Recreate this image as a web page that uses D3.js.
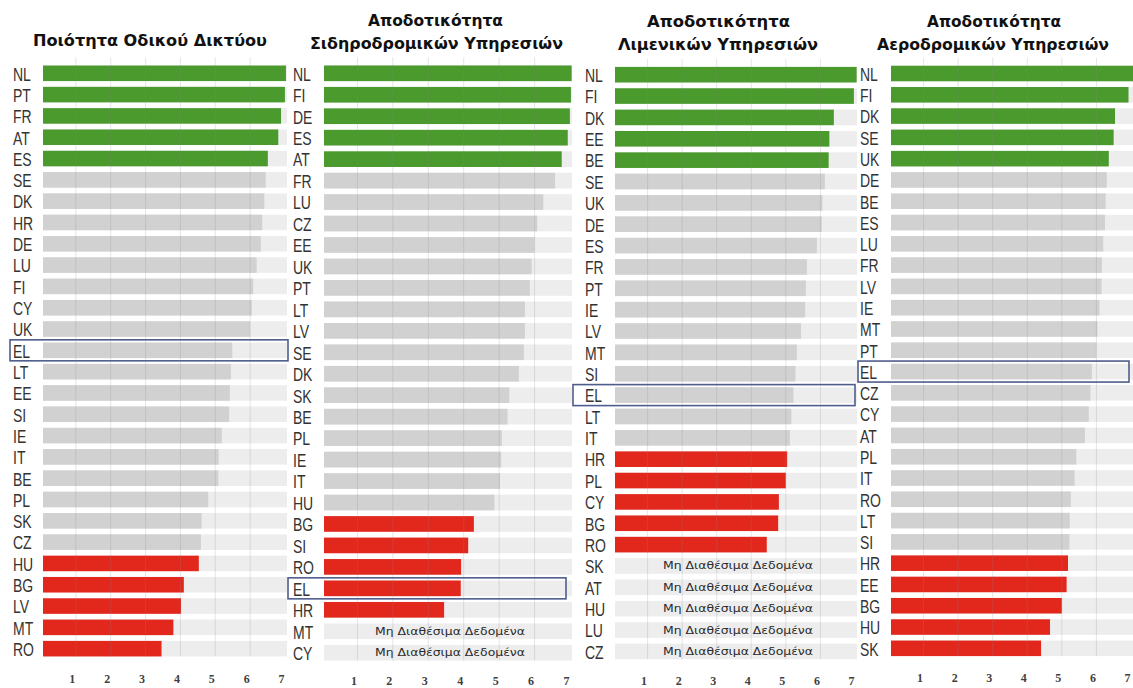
<!DOCTYPE html>
<html>
<head>
<meta charset="utf-8">
<script src="https://cdn.jsdelivr.net/npm/d3@7"></script>
<style>
  html, body { margin: 0; padding: 0; background: #ffffff; }
  svg { display: block; }
</style>
</head>
<body>
<svg id="chart" width="1133" height="688"></svg>
<script>
// ---------------- DATA ----------------
const roadTitle = ["Ποιότητα Οδικού Δικτύου"];
const roadCountries = ["NL","PT","FR","AT","ES","SE","DK","HR","DE","LU","FI","CY","UK","EL","LT","EE","SI","IE","IT","BE","PL","SK","CZ","HU","BG","LV","MT","RO"];
const roadValues    = [6.97,6.94,6.83,6.75,6.45,6.39,6.35,6.29,6.25,6.13,6.03,5.99,5.94,5.43,5.39,5.36,5.34,5.13,5.04,5.03,4.74,4.55,4.53,4.47,4.04,3.96,3.74,3.40];

const railTitle = ["Αποδοτικότητα","Σιδηροδρομικών Υπηρεσιών"];
const railCountries = ["NL","FI","DE","ES","AT","FR","LU","CZ","EE","UK","PT","LT","LV","SE","DK","SK","BE","PL","IE","IT","HU","BG","SI","RO","EL","HR","MT","CY"];
const railValues    = [6.99,6.97,6.94,6.88,6.71,6.52,6.19,6.02,5.94,5.86,5.81,5.67,5.67,5.64,5.50,5.23,5.18,5.02,5.00,4.97,4.81,4.23,4.07,3.87,3.86,3.39,null,null];

const portTitle = ["Αποδοτικότητα","Λιμενικών Υπηρεσιών"];
const portCountries = ["NL","FI","DK","EE","BE","SE","UK","DE","ES","FR","PT","IE","LV","MT","SI","EL","LT","IT","HR","PL","CY","BG","RO","SK","AT","HU","LU","CZ"];
const portValues    = [6.99,6.91,6.33,6.20,6.18,6.07,6.00,5.98,5.84,5.55,5.52,5.50,5.38,5.26,5.22,5.16,5.10,5.06,4.98,4.94,4.74,4.72,4.39,null,null,null,null,null];

const airTitle = ["Αποδοτικότητα","Αεροδρομικών Υπηρεσιών"];
const airCountries = ["NL","FI","DK","SE","UK","DE","BE","ES","LU","FR","LV","IE","MT","PT","EL","CZ","CY","AT","PL","IT","RO","LT","SI","HR","EE","BG","HU","SK"];
const airValues    = [7.00,6.87,6.48,6.44,6.30,6.24,6.21,6.19,6.14,6.10,6.09,6.03,5.97,5.94,5.81,5.77,5.72,5.61,5.36,5.31,5.20,5.17,5.16,5.12,5.08,4.94,4.60,4.34];

const tickValues = [1,2,3,4,5,6,7];
const highlightCountry = "EL";
const missingText = "Μη Διαθέσιμα Δεδομένα";
const topCount = 5;     // green group size
const bottomCount = 5;  // red group size

// ---------------- LAYOUT / STYLE ----------------
const colors = { green: "#4a9a2e", red: "#e2281d", gray: "#d1d1d1", track: "#ededed",
                 label: "#333333", tick: "#3f3f3f", box: "#4f5d8c", title: "#111" };

const panels = [
  { title: roadTitle, countries: roadCountries, values: roadValues,
    labelX: 13, x0: 43, x1: 287, y0: 73.3, pitch: 21.31, tickY: 683, box: [10, 288],
    titlePos: [{cx: 150, y: 46, w: 234}] },
  { title: railTitle, countries: railCountries, values: railValues,
    labelX: 293, x0: 324, x1: 572, y0: 73.3, pitch: 21.46, tickY: 685, box: [288, 566],
    titlePos: [{cx: 435.5, y: 26, w: 135}, {cx: 436.5, y: 49, w: 253}] },
  { title: portTitle, countries: portCountries, values: portValues,
    labelX: 585, x0: 615, x1: 857, y0: 74.7, pitch: 21.36, tickY: 685, box: [573, 855],
    titlePos: [{cx: 718.5, y: 27, w: 143}, {cx: 718, y: 50, w: 200}] },
  { title: airTitle, countries: airCountries, values: airValues,
    labelX: 860, x0: 891, x1: 1133, y0: 73.5, pitch: 21.29, tickY: 682, box: [858, 1129],
    titlePos: [{cx: 994, y: 27, w: 134}, {cx: 993, y: 50, w: 232}] }
];

const svg = d3.select("#chart");

panels.forEach(p => {
  const g = svg.append("g");
  const n = p.countries.length;
  const x = d3.scaleLinear().domain([0, 7]).range([p.x0, p.x1]);
  const y = d3.scaleBand().domain(p.countries)
      .range([p.y0 - p.pitch / 2, p.y0 - p.pitch / 2 + n * p.pitch])
      .paddingInner(0.27).paddingOuter(0.135);
  const bw = y.bandwidth();

  const rows = p.countries.map((c, i) => ({ c, v: p.values[i], i }));
  const valid = rows.filter(r => r.v != null);
  const nValid = valid.length;
  const colorOf = r => r.i < topCount ? colors.green : (r.i >= nValid - bottomCount ? colors.red : colors.gray);

  // tracks
  g.selectAll("rect.track").data(rows).join("rect")
    .attr("class", "track")
    .attr("x", x(0)).attr("width", x(7) - x(0))
    .attr("y", d => y(d.c)).attr("height", bw)
    .attr("fill", colors.track);

  // bars
  g.selectAll("rect.bar").data(valid).join("rect")
    .attr("class", "bar")
    .attr("x", x(0)).attr("width", d => x(d.v) - x(0))
    .attr("y", d => y(d.c)).attr("height", bw)
    .attr("fill", d => colorOf(d));

  // missing-data text
  g.selectAll("text.missing").data(rows.filter(r => r.v == null)).join("text")
    .attr("class", "missing")
    .attr("x", (x(0) + x(7)) / 2 + 2).attr("y", d => y(d.c) + bw / 2)
    .attr("dy", "0.35em")
    .attr("text-anchor", "middle")
    .attr("font-family", "DejaVu Sans, Verdana, sans-serif")
    .attr("font-size", 10)
    .attr("fill", "#2a2a2a")
    .attr("textLength", 150).attr("lengthAdjust", "spacingAndGlyphs")
    .text(missingText);

  // grid lines
  const gridTop = y(p.countries[0]) - 8;
  const gridBottom = y(p.countries[n - 1]) + bw;
  g.selectAll("line.grid").data(tickValues.slice(0, 6)).join("line")
    .attr("class", "grid")
    .attr("x1", d => x(d) - 2).attr("x2", d => x(d) - 2)
    .attr("y1", gridTop).attr("y2", gridBottom)
    .attr("stroke", "#8a8a8a").attr("stroke-opacity", 0.22).attr("stroke-width", 1);

  // country labels
  g.selectAll("text.lab").data(rows).join("text")
    .attr("class", "lab")
    .attr("transform", d => `translate(${p.labelX},${y(d.c) + bw / 2 + 1}) scale(0.8,1)`)
    .attr("dy", "0.36em")
    .attr("font-family", "Liberation Sans, Arial, sans-serif")
    .attr("font-size", 17.5)
    .attr("fill", colors.label)
    .text(d => d.c);

  // highlight box
  const elY = y(highlightCountry) + bw / 2;
  g.append("rect")
    .attr("x", p.box[0]).attr("width", p.box[1] - p.box[0])
    .attr("y", elY - 10.5).attr("height", 21)
    .attr("fill", "none").attr("stroke", colors.box).attr("stroke-width", 1.6);

  // x axis tick labels
  const axis = d3.axisBottom(x).tickValues(tickValues).tickSize(0).tickFormat(d3.format("d"));
  const ag = g.append("g").attr("transform", `translate(-6,${p.tickY - 12})`).call(axis);
  ag.select(".domain").remove();
  ag.selectAll("text")
    .attr("font-family", "Liberation Serif, Times New Roman, serif")
    .attr("font-size", 12)
    .attr("font-weight", "bold")
    .attr("fill", colors.tick);

  // titles
  p.title.forEach((t, k) => {
    const tp = p.titlePos[k];
    g.append("text")
      .attr("x", tp.cx).attr("y", tp.y)
      .attr("text-anchor", "middle")
      .attr("font-family", "DejaVu Sans, Verdana, sans-serif")
      .attr("font-weight", "bold")
      .attr("font-size", 15.5)
      .attr("fill", colors.title)
      .attr("textLength", tp.w).attr("lengthAdjust", "spacingAndGlyphs")
      .text(t);
  });
});
</script>
</body>
</html>
